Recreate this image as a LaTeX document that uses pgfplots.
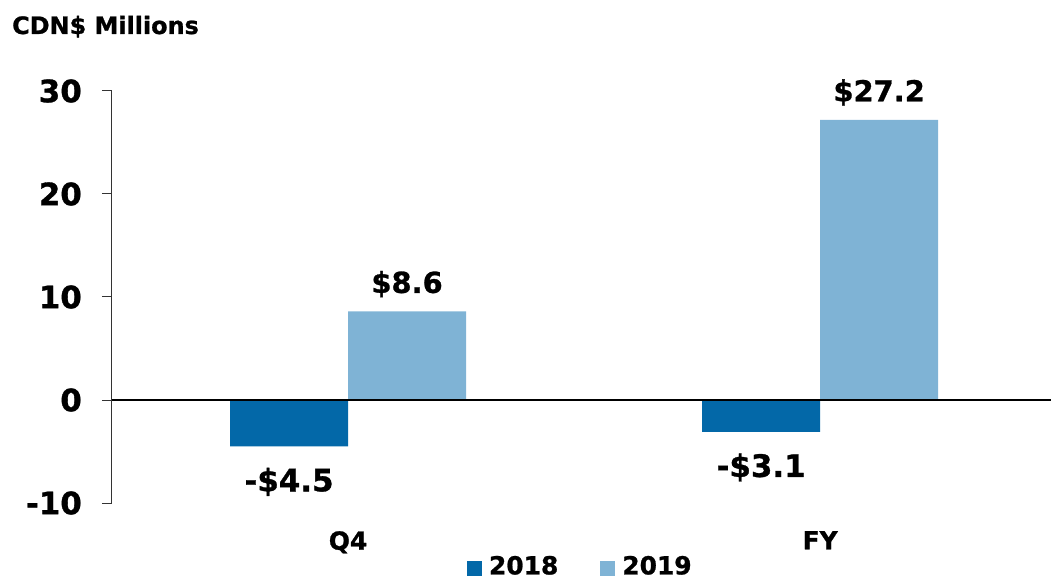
\documentclass[border=0pt]{standalone}
\usepackage{fontspec}
\setmainfont{DejaVu Sans}[BoldFeatures={FakeBold=1}]
\usepackage{pgfplots}
\pgfplotsset{compat=1.18}

\definecolor{dark18}{RGB}{3,104,168}
\definecolor{light19}{RGB}{127,179,213}

\begin{document}
\begin{tikzpicture}
\useasboundingbox (-112bp,-75bp) rectangle (939bp,503bp);
\begin{axis}[
  at={(0,0)}, anchor=south west,
  scale only axis,
  width=939bp, height=412bp,
  xmin=-0.5, xmax=1.489,
  ymin=-10, ymax=30,
  ytick={-10,0,10,20,30},
  xtick={0,1}, xticklabels={Q4,FY},
  axis y line*=left,
  axis x line*=bottom,
  x axis line style={draw=none},
  y axis line style={line width=1bp, black!80},
  xtick style={draw=none},
  ytick style={line width=1bp, black!80},
  tick align=outside,
  major tick length=10bp,
  /pgf/number format/assume math mode=true,
  yticklabel style={font=\fontsize{31}{31}\selectfont\bfseries, inner sep=0pt, anchor=east, xshift=-20bp},
  xticklabel style={font=\fontsize{25}{25}\selectfont\bfseries, inner sep=0pt, anchor=north, yshift=-18bp},
  ybar=0pt, bar width=118bp,
  point meta=explicit symbolic,
  legend columns=2,
  legend style={draw=none, fill=none, at={(355bp,-82.9bp)}, anchor=south west,
    inner sep=0pt, outer sep=0pt,
    font=\fontsize{25}{25}\selectfont\bfseries,
    nodes={inner sep=0pt},
    /tikz/every even column/.append style={column sep=42bp}},
  legend image code/.code={\fill[#1] (0bp,-10bp) rectangle (15bp,5bp); \path (0bp,-20bp) (22bp,20bp);},
]
\addplot[fill=dark18, draw=none,
  nodes near coords,
  every node near coord/.append style={font=\fontsize{31}{31}\selectfont\bfseries, anchor=base, inner sep=0pt, yshift=-45bp}]
  coordinates {(0,-4.5) [-\$4.5] (1,-3.1) [-\$3.1]};
\addlegendentry{2018}
\addplot[fill=light19, draw=none,
  nodes near coords,
  every node near coord/.append style={font=\fontsize{29}{29}\selectfont\bfseries, anchor=base, inner sep=0pt, yshift=18.5bp}]
  coordinates {(0,8.6) [\$8.6] (1,27.2) [\$27.2]};
\addlegendentry{2019}
\draw[black, line width=1.3bp] (axis cs:-0.5,0) -- (axis cs:1.489,0);
\end{axis}
\node[anchor=base west, inner sep=0pt, font=\fontsize{24}{24}\selectfont\bfseries] at (-100bp,469bp) {CDN\$ Millions};
\end{tikzpicture}
\end{document}
